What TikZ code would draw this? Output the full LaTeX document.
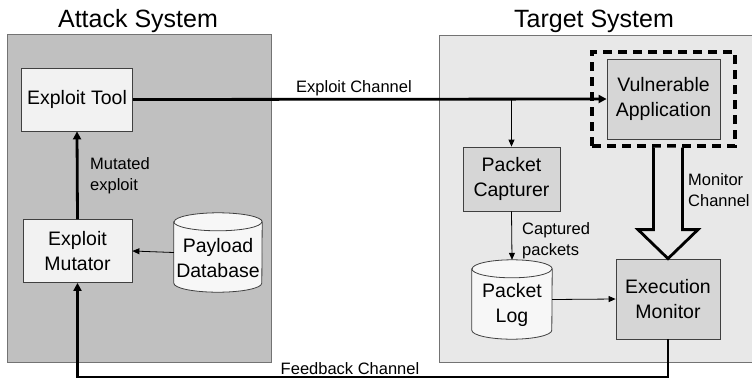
\documentclass[tikz,border=0pt]{standalone}
\usepackage{fontspec}
\setmainfont{Liberation Sans}
\usetikzlibrary{arrows.meta}
\definecolor{attackbg}{HTML}{C0C0C0}
\definecolor{targetbg}{HTML}{E8E8E8}
\definecolor{lightbox}{HTML}{F2F2F2}
\definecolor{darkbox}{HTML}{D6D6D6}
\definecolor{cylfill}{HTML}{F7F7F7}
\definecolor{edge}{HTML}{404040}
\begin{document}
\begin{tikzpicture}[x=1pt,y=-1pt,
  panel/.style={draw=black!55,line width=0.8pt},
  boxtext/.style={font=\fontsize{19.5}{24.5}\selectfont,align=center},
  abox/.style={boxtext,draw=edge,line width=0.8pt,fill=lightbox,inner sep=0pt},
  tbox/.style={boxtext,draw=edge,line width=0.8pt,fill=darkbox,inner sep=0pt},
  cylnode/.style={boxtext,inner sep=0pt},
  cylline/.style={draw=edge,line width=0.8pt},
  lbl/.style={font=\fontsize{16.5}{21}\selectfont,inner sep=0pt},
  title/.style={font=\fontsize{25}{30}\selectfont,inner sep=0pt,anchor=base},
  heavy/.style={line width=2.8pt,-{Triangle[length=8pt,width=8pt]}},
  light/.style={line width=0.8pt,-{Triangle[length=7pt,width=6pt]}},
  dashframe/.style={draw=black,line width=3.2pt,dash pattern=on 9pt off 6pt}]

\clip (0,0) rectangle (752,381);
\fill[white] (0,0) rectangle (752,381);

% system panels
\draw[panel,fill=attackbg] (7,34) rectangle (271,362);
\draw[panel,fill=targetbg] (439.5,35) rectangle (770,362);
\node[title] (tatk) at (138,27) {Attack System};
\node[title] (ttgt) at (594,27) {Target System};

% attack side
\node[abox,minimum width=111,minimum height=63] (tool) at (77,99.5) {Exploit Tool};
\node[abox,minimum width=109,minimum height=63] (mut) at (77.5,251) {Exploit\\Mutator};
\node[cylnode,minimum width=88,minimum height=79] (pd) at (218,252.5) {};
\draw[cylline,fill=cylfill]
  ([yshift=-9pt]pd.north west) -- ([yshift=9pt]pd.south west)
  arc[start angle=180,end angle=360,x radius=44pt,y radius=9pt]
  -- ([yshift=-9pt]pd.north east)
  arc[start angle=0,end angle=180,x radius=44pt,y radius=9pt] -- cycle;
\draw[cylline] ([yshift=-9pt]pd.north west)
  arc[start angle=180,end angle=360,x radius=44pt,y radius=9pt];
\node[boxtext] (pdtext) at (218,258) {Payload\\Database};

% target side
\node[tbox,minimum width=113,minimum height=80] (vapp) at (663.5,99) {Vulnerable\\Application};
\node[dashframe,minimum width=143,minimum height=94,inner sep=0pt] (dash) at (663.5,99) {};
\node[tbox,minimum width=97,minimum height=64] (pc) at (511.5,179) {Packet\\Capturer};
\node[tbox,minimum width=104,minimum height=80] (em) at (668,299) {Execution\\Monitor};
\node[cylnode,minimum width=80,minimum height=79] (pl) at (512,299.5) {};
\draw[cylline,fill=cylfill]
  ([yshift=-9pt]pl.north west) -- ([yshift=9pt]pl.south west)
  arc[start angle=180,end angle=360,x radius=40pt,y radius=9pt]
  -- ([yshift=-9pt]pl.north east)
  arc[start angle=0,end angle=180,x radius=40pt,y radius=9pt] -- cycle;
\draw[cylline] ([yshift=-9pt]pl.north west)
  arc[start angle=180,end angle=360,x radius=40pt,y radius=9pt];
\node[boxtext] (pltext) at (512,305) {Packet\\Log};

% connectors
\draw[heavy] (tool.east) -- (vapp.west);
\node[lbl,anchor=base] (lexp) at (354,92) {Exploit Channel};
\draw[light] (pc.north |- tool.east) -- (pc.north);
\draw[heavy] (mut.north) -- (tool.south);
\node[lbl,anchor=north west,align=left] (lmut) at (90,157) {Mutated\\exploit};
\draw[light] (pd.west) -- (mut.east);
\draw[light] (pc.south) -- (pl.north);
\node[lbl,anchor=north west,align=left] (lcap) at (522,222) {Captured\\packets};
\draw[light] (pl.east) -- (em.west);

% monitor channel (hollow arrow)
\draw[line width=2.8pt,fill=targetbg,line join=miter]
  ([xshift=-14.5pt]em.north |- dash.south) -- ([xshift=-14.5pt,yshift=29pt]em.north)
  -- ([xshift=-30pt,yshift=29pt]em.north) -- (em.north)
  -- ([xshift=30pt,yshift=29pt]em.north) -- ([xshift=14.5pt,yshift=29pt]em.north)
  -- ([xshift=14.5pt]em.north |- dash.south);
\node[lbl,anchor=north west,align=left] (lmon) at (688,173) {Monitor\\Channel};

% feedback channel
\coordinate (fb) at (668,377);
\draw[heavy] (em.south) -- (fb) -| (mut.south);
\node[lbl,anchor=base] (lfb) at (350,374) {Feedback Channel};
\end{tikzpicture}
\end{document}
